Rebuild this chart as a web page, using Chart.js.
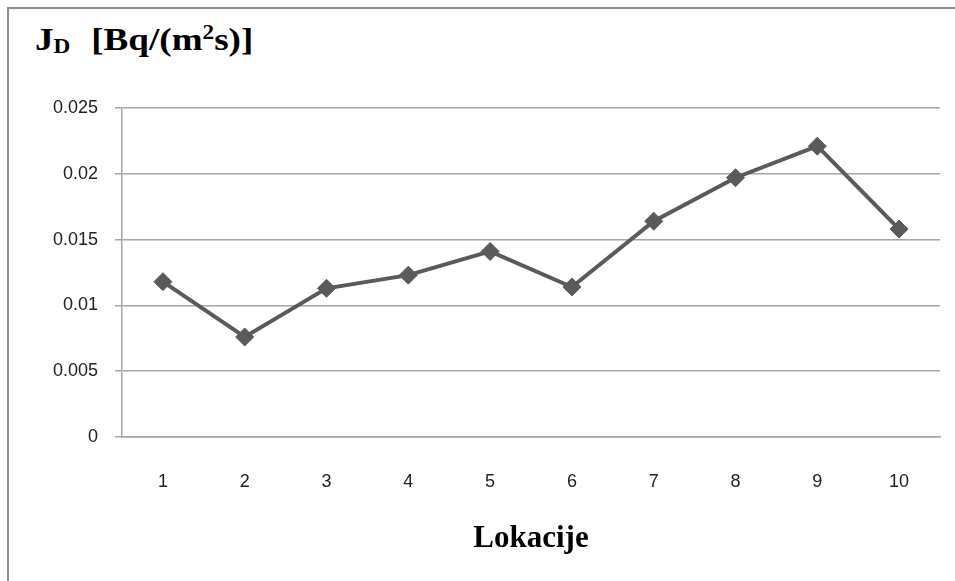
<!DOCTYPE html>
<html>
<head>
<meta charset="utf-8">
<script src="https://cdn.jsdelivr.net/npm/chart.js@4"></script>
<style>
  html, body { margin: 0; padding: 0; background: #fff; }
  #wrap { position: relative; width: 955px; height: 581px; overflow: hidden; }
  #frame {
    position: absolute; left: 7px; top: 7px; width: 1000px; height: 700px;
    border-left: 2px solid #8c8c8c; border-top: 2px solid #8c8c8c;
  }
  #ytitle {
    position: absolute; left: 35px; top: 19px;
    font-family: "Liberation Serif", "Times New Roman", serif;
    font-weight: bold; font-size: 32px; line-height: 40px; color: #000; white-space: nowrap;
    transform: scaleX(1.16); transform-origin: left center;
  }
  #ytitle sub { font-size: 20px; vertical-align: -3px; line-height: 0; }
  #ytitle sup { font-size: 20px; vertical-align: 11px; line-height: 0; }
  #ytitle .unit { margin-left: 18px; }
  canvas { position: absolute; left: 0; top: 0; }
</style>
</head>
<body>
<div id="wrap">
  <div id="frame"></div>
  <div id="ytitle">J<sub>D</sub><span class="unit">[Bq/(m<sup>2</sup>s)]</span></div>
  <canvas id="chart" width="955" height="581"></canvas>
</div>
<script>
const locations = ["1", "2", "3", "4", "5", "6", "7", "8", "9", "10"];
const jdValues = [0.0118, 0.0076, 0.0113, 0.0123, 0.0141, 0.0114, 0.0164, 0.0197, 0.0221, 0.0158];
const yTicks = [0, 0.005, 0.01, 0.015, 0.02, 0.025];

const tickFont = { family: "Liberation Sans, Arial, sans-serif", size: 18 };

new Chart(document.getElementById("chart"), {
  type: "line",
  data: {
    labels: locations,
    datasets: [{
      data: jdValues,
      borderColor: "#5a5a5a",
      borderWidth: 4,
      pointStyle: "rectRot",
      pointRadius: 9,
      pointBackgroundColor: "#5a5a5a",
      pointBorderColor: "#5a5a5a",
      pointBorderWidth: 1,
      tension: 0
    }]
  },
  options: {
    responsive: false,
    animation: false,
    layout: { padding: { top: 108, right: 15, left: 0, bottom: 0 } },
    plugins: { legend: { display: false }, tooltip: { enabled: false } },
    scales: {
      x: {
        offset: true,
        grid: { display: false, drawTicks: false },
        border: { color: "#a6a6a6", width: 1.5 },
        ticks: { color: "#222", font: tickFont, padding: 34 },
        title: {
          display: true,
          text: "Lokacije",
          color: "#000",
          font: { family: "Liberation Serif, Times New Roman, serif", size: 31, weight: "bold" },
          padding: { top: 4, bottom: 23 }
        },
        afterFit: s => { s.height = 144; }
      },
      y: {
        min: 0,
        max: 0.025,
        afterBuildTicks: s => { s.ticks = yTicks.map(v => ({ value: v })); },
        grid: { color: "#a6a6a6", lineWidth: 1.5, tickLength: 7 },
        border: { color: "#a6a6a6", width: 1.5 },
        ticks: {
          color: "#222",
          font: tickFont,
          padding: 17,
          callback: v => String(v)
        },
        afterFit: s => { s.width = 122; }
      }
    }
  }
});
</script>
</body>
</html>
